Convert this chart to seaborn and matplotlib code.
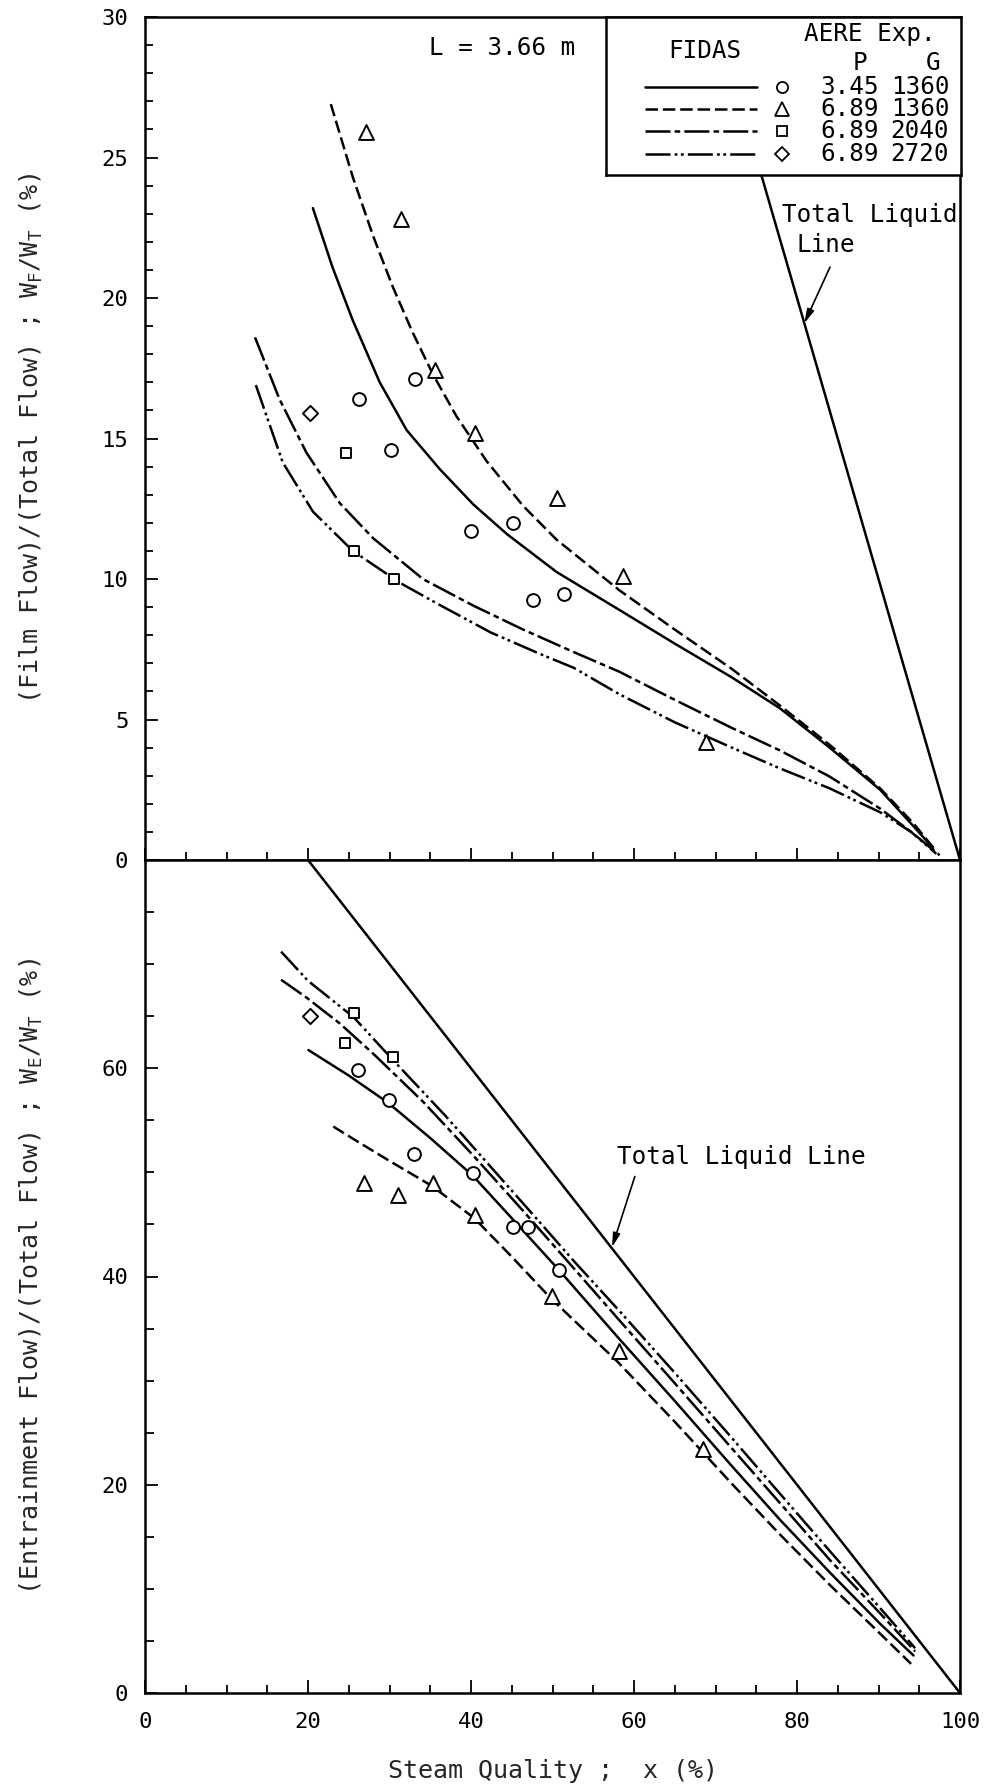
import matplotlib
matplotlib.use("Agg")
import matplotlib.pyplot as plt
from matplotlib.ticker import MultipleLocator, FuncFormatter
import seaborn as sns

# ---------------------------------------------------------------
# FIDAS predictions, film flow / total flow (%) vs steam quality (%)
# ---------------------------------------------------------------
film_x_345_1360 = [20.6, 23.0, 25.5, 28.8, 32.1, 36.2, 40.3, 44.4, 50.5, 58.2, 65.0, 72.0, 77.9, 84.0, 90.2, 94.3, 96.7]
film_y_345_1360 = [23.2, 21.1, 19.2, 17.0, 15.3, 13.9, 12.65, 11.6, 10.25, 8.9, 7.7, 6.5, 5.4, 4.0, 2.5, 1.2, 0.42]

film_x_689_1360 = [22.8, 25.5, 28.0, 30.4, 32.8, 35.3, 38.2, 41.9, 46.4, 50.5, 58.2, 65.0, 72.0, 77.9, 84.0, 90.2, 94.3, 96.7]
film_y_689_1360 = [26.9, 24.3, 22.2, 20.4, 18.8, 17.3, 15.8, 14.2, 12.6, 11.4, 9.6, 8.2, 6.8, 5.5, 4.1, 2.55, 1.3, 0.45]

film_x_689_2040 = [13.5, 16.5, 19.8, 23.9, 28.0, 34.1, 40.3, 46.4, 52.6, 58.2, 65.0, 72.0, 77.9, 84.0, 90.2, 94.0, 97.5]
film_y_689_2040 = [18.6, 16.4, 14.5, 12.7, 11.45, 10.0, 9.05, 8.2, 7.4, 6.7, 5.7, 4.7, 3.9, 2.97, 1.83, 1.0, 0.17]

film_x_689_2720 = [13.6, 16.9, 20.6, 25.5, 31.3, 36.2, 42.4, 48.5, 52.6, 58.2, 65.0, 72.0, 77.9, 84.0, 90.2, 94.0, 97.1]
film_y_689_2720 = [16.9, 14.15, 12.4, 11.0, 9.86, 9.07, 8.1, 7.33, 6.84, 5.9, 4.9, 4.0, 3.26, 2.55, 1.7, 1.0, 0.22]

# AERE experiments, film flow
film_exp_x_345_1360 = [26.2, 33.1, 30.2, 40.0, 45.1, 47.6, 51.4]
film_exp_y_345_1360 = [16.4, 17.1, 14.6, 11.7, 12.0, 9.26, 9.46]
film_exp_x_689_1360 = [27.1, 31.4, 35.6, 40.5, 50.5, 58.6, 68.8]
film_exp_y_689_1360 = [25.9, 22.8, 17.45, 15.2, 12.9, 10.1, 4.2]
film_exp_x_689_2040 = [24.7, 25.7, 30.6]
film_exp_y_689_2040 = [14.5, 11.0, 10.0]
film_exp_x_689_2720 = [20.2]
film_exp_y_689_2720 = [15.9]

# ---------------------------------------------------------------
# FIDAS predictions, entrainment flow / total flow (%)
# ---------------------------------------------------------------
entr_x_345_1360 = [20.05, 25.0, 29.8, 35.0, 40.2, 45.0, 50.7, 58.2, 65.0, 72.0, 77.9, 84.0, 90.2, 94.3]
entr_y_345_1360 = [61.75, 59.3, 56.7, 53.3, 49.7, 45.6, 40.7, 34.0, 28.05, 21.8, 16.65, 11.6, 6.65, 3.6]

entr_x_689_1360 = [23.1, 26.0, 30.0, 35.2, 40.4, 45.0, 49.8, 58.0, 65.0, 72.0, 78.0, 84.0, 90.0, 94.0]
entr_y_689_1360 = [54.4, 53.0, 51.1, 48.7, 45.6, 41.9, 37.9, 31.8, 26.05, 20.1, 15.15, 10.4, 5.85, 2.8]

entr_x_689_2040 = [16.7, 19.8, 23.9, 28.0, 34.1, 40.3, 46.4, 52.6, 58.2, 65.0, 72.0, 77.9, 84.0, 90.2, 94.5]
entr_y_689_2040 = [68.5, 66.8, 64.3, 61.4, 56.8, 51.6, 46.3, 40.8, 35.8, 29.75, 23.5, 18.25, 12.8, 7.65, 4.0]

entr_x_689_2720 = [16.7, 20.0, 25.6, 30.3, 36.9, 42.4, 48.5, 52.6, 58.2, 65.0, 72.0, 77.9, 84.0, 90.2, 94.5]
entr_y_689_2720 = [71.2, 68.4, 64.9, 60.9, 55.4, 50.55, 45.15, 41.5, 36.7, 30.75, 24.5, 19.15, 13.65, 8.15, 4.3]

# AERE experiments, entrainment
entr_exp_x_345_1360 = [26.1, 29.9, 33.0, 40.2, 45.2, 47.0, 50.8]
entr_exp_y_345_1360 = [59.8, 56.95, 51.8, 49.9, 44.8, 44.8, 40.6]
entr_exp_x_689_1360 = [26.9, 31.1, 35.3, 40.5, 49.9, 58.1, 68.5]
entr_exp_y_689_1360 = [48.95, 47.8, 48.95, 45.9, 38.1, 32.8, 23.4]
entr_exp_x_689_2040 = [25.7, 24.5, 30.4]
entr_exp_y_689_2040 = [65.3, 62.4, 61.1]
entr_exp_x_689_2720 = [20.3]
entr_exp_y_689_2720 = [65.0]

# Total liquid line: W_liquid / W_T = 100 - x
liquid_x = [0, 100]
liquid_y = [100, 0]

# Legend table
case_pressure = ["3.45", "6.89", "6.89", "6.89"]
case_massflux = ["1360", "1360", "2040", "2720"]

# ---------------------------------------------------------------
sns.set_theme(style="ticks")
plt.rcParams["font.family"] = ["DejaVu Sans Mono", "DejaVu Sans"]
plt.rcParams["mathtext.fontset"] = "custom"
plt.rcParams["mathtext.rm"] = "DejaVu Sans Mono"
plt.rcParams["mathtext.it"] = "DejaVu Sans Mono"
plt.rcParams["lines.scale_dashes"] = False

INK = "black"
LW = 1.8
line_styles = ["-", (0, (9, 3.5)), (0, (18, 3, 4, 3)), (0, (18, 3, 2, 2.5, 2, 3))]
markers = ["o", "^", "s", "D"]
marker_area = [85, 115, 62, 60]
TXT = 17.5

fig = plt.figure(figsize=(9.84, 17.85), dpi=100)
ax_top = fig.add_axes([145 / 984, 1 - 860 / 1785, 815 / 984, 843 / 1785])
ax_bot = fig.add_axes([145 / 984, 1 - 1693 / 1785, 815 / 984, 833 / 1785])


def draw_curve(ax, x, y, ls):
    sns.lineplot(x=x, y=y, ax=ax, color=INK, linewidth=LW, linestyle=ls,
                 sort=False, estimator=None)


def draw_points(ax, x, y, marker, area):
    sns.scatterplot(x=x, y=y, ax=ax, marker=marker, s=area, color="white",
                    edgecolor=INK, linewidth=1.4, zorder=4)


film_curves = [(film_x_345_1360, film_y_345_1360), (film_x_689_1360, film_y_689_1360),
               (film_x_689_2040, film_y_689_2040), (film_x_689_2720, film_y_689_2720)]
film_points = [(film_exp_x_345_1360, film_exp_y_345_1360), (film_exp_x_689_1360, film_exp_y_689_1360),
               (film_exp_x_689_2040, film_exp_y_689_2040), (film_exp_x_689_2720, film_exp_y_689_2720)]
entr_curves = [(entr_x_345_1360, entr_y_345_1360), (entr_x_689_1360, entr_y_689_1360),
               (entr_x_689_2040, entr_y_689_2040), (entr_x_689_2720, entr_y_689_2720)]
entr_points = [(entr_exp_x_345_1360, entr_exp_y_345_1360), (entr_exp_x_689_1360, entr_exp_y_689_1360),
               (entr_exp_x_689_2040, entr_exp_y_689_2040), (entr_exp_x_689_2720, entr_exp_y_689_2720)]

for ax, curves, points in [(ax_top, film_curves, film_points), (ax_bot, entr_curves, entr_points)]:
    draw_curve(ax, liquid_x, liquid_y, "-")
    for (cx, cy), ls in zip(curves, line_styles):
        draw_curve(ax, cx, cy, ls)
    for (px, py), mk, ar in zip(points, markers, marker_area):
        draw_points(ax, px, py, mk, ar)

# ---- axes cosmetics ----
for ax in (ax_top, ax_bot):
    ax.set_xlim(0, 100)
    for sp in ax.spines.values():
        sp.set_visible(True)
        sp.set_linewidth(1.8)
        sp.set_color(INK)
    ax.xaxis.set_major_locator(MultipleLocator(20))
    ax.xaxis.set_minor_locator(MultipleLocator(5))
    ax.tick_params(which="both", direction="in", top=False, right=False,
                   color=INK, width=1.3, labelcolor=INK)
    ax.set_xlabel("")

ax_top.set_ylim(0, 30)
ax_top.yaxis.set_major_locator(MultipleLocator(5))
ax_top.yaxis.set_minor_locator(MultipleLocator(1))
ax_top.tick_params(axis="x", which="major", length=9, labelbottom=False)
ax_top.tick_params(axis="x", which="minor", length=6)
ax_top.tick_params(axis="y", which="major", length=9.5, labelsize=16, pad=12)
ax_top.tick_params(axis="y", which="minor", length=6)

ax_bot.set_ylim(0, 80)
ax_bot.yaxis.set_major_locator(MultipleLocator(20))
ax_bot.yaxis.set_minor_locator(MultipleLocator(5))
ax_bot.yaxis.set_major_formatter(FuncFormatter(lambda v, p: "" if v >= 80 else f"{v:g}"))
ax_bot.tick_params(axis="x", which="major", length=9.5, labelsize=16, pad=14)
ax_bot.tick_params(axis="x", which="minor", length=6)
ax_bot.tick_params(axis="y", which="major", length=9.5, labelsize=16, pad=12)
ax_bot.tick_params(axis="y", which="minor", length=6.5)

ax_top.set_ylabel(r"(Film Flow)/(Total Flow) ; W$_\mathrm{F}$/W$_\mathrm{T}$ (%)", fontsize=18)
ax_top.yaxis.set_label_coords(-0.123, 0.5)
ax_bot.set_ylabel(r"(Entrainment Flow)/(Total Flow) ; W$_\mathrm{E}$/W$_\mathrm{T}$ (%)", fontsize=18)
ax_bot.yaxis.set_label_coords(-0.123, 0.5)
ax_bot.set_xlabel("Steam Quality ;  x (%)", fontsize=18)
ax_bot.xaxis.set_label_coords(0.5, -0.079)

# ---- annotations ----
ax_top.text(34.8, 28.9, "L = 3.66 m", fontsize=TXT, ha="left", va="center", color=INK)
ax_top.text(88.95, 22.96, "Total Liquid", fontsize=TXT, ha="center", va="center", color=INK)
ax_top.text(83.5, 21.9, "Line", fontsize=TXT, ha="center", va="center", color=INK)
arrow = dict(arrowstyle="-|>,head_length=0.7,head_width=0.18", color=INK, lw=1.2,
             shrinkA=0, shrinkB=0)
ax_top.annotate("", xy=(80.9, 19.1), xytext=(84.05, 21.1), arrowprops=arrow)

ax_bot.text(73.2, 51.46, "Total Liquid Line", fontsize=TXT, ha="center", va="center", color=INK)
ax_bot.annotate("", xy=(57.3, 42.8), xytext=(60.1, 49.6), arrowprops=arrow)

# ---- legend box (local pixel frame 355 x 158) ----
ax_leg = fig.add_axes([606 / 984, 1 - 175 / 1785, 355 / 984, 158 / 1785])
ax_leg.set_xlim(0, 355)
ax_leg.set_ylim(158, 0)
ax_leg.set_xticks([])
ax_leg.set_yticks([])
ax_leg.set_facecolor("white")
for sp in ax_leg.spines.values():
    sp.set_visible(True)
    sp.set_linewidth(1.8)
    sp.set_color(INK)

ax_leg.text(264, 17, "AERE Exp.", fontsize=TXT, ha="center", va="center", color=INK)
ax_leg.text(99, 34, "FIDAS", fontsize=TXT, ha="center", va="center", color=INK)
ax_leg.text(254, 46, "P", fontsize=TXT, ha="center", va="center", color=INK)
ax_leg.text(327, 46, "G", fontsize=TXT, ha="center", va="center", color=INK)

row_y = [70, 92, 114.5, 137]
legend_ms = [8, 10, 7.5, 7.5]
for ry, ls, mk, ms, p, g in zip(row_y, line_styles, markers, legend_ms, case_pressure, case_massflux):
    ax_leg.plot([39, 151], [ry, ry], color=INK, lw=LW, linestyle=ls)
    ax_leg.plot([176], [ry], marker=mk, ms=ms, mfc="white", mec=INK, mew=1.3, ls="none")
    ax_leg.text(244, ry, p, fontsize=TXT, ha="center", va="center", color=INK)
    ax_leg.text(314, ry, g, fontsize=TXT, ha="center", va="center", color=INK)

fig.savefig("out.png", dpi=100, facecolor="white")
